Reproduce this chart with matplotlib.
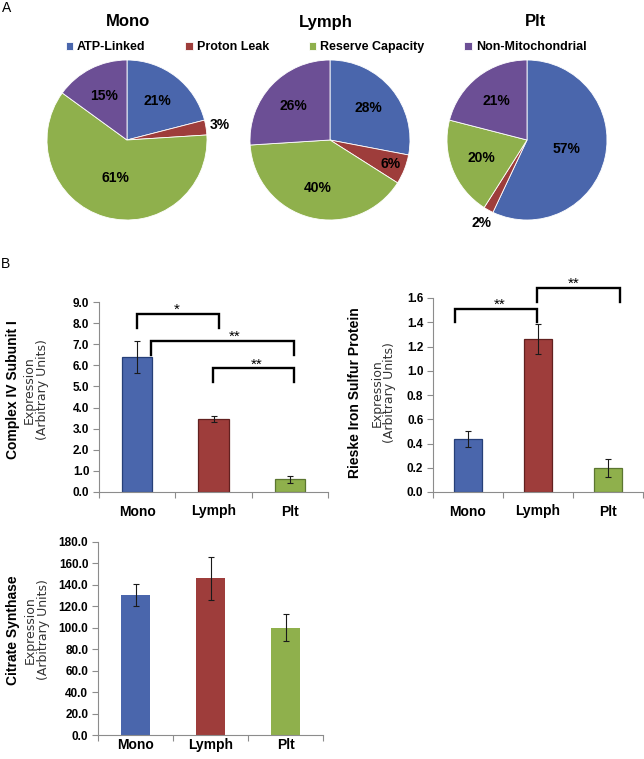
import matplotlib

matplotlib.use("Agg")
import matplotlib.pyplot as plt
import numpy as np

plt.rcParams["font.family"] = ["Liberation Sans", "DejaVu Sans"]

W, H = 644, 759

CELLS = ["Mono", "Lymph", "Plt"]
COMPONENTS = ["ATP-Linked", "Proton Leak", "Reserve Capacity", "Non-Mitochondrial"]
PIE_MONO = [21, 3, 61, 15]
PIE_LYMPH = [28, 6, 40, 26]
PIE_PLT = [57, 2, 20, 21]

COX_MEAN = [6.4, 3.45, 0.6]
COX_ERR = [0.77, 0.13, 0.15]
RIESKE_MEAN = [0.44, 1.26, 0.195]
RIESKE_ERR = [0.066, 0.125, 0.075]
CS_MEAN = [130.5, 146.0, 100.0]
CS_ERR = [10.5, 20.0, 12.5]

COLORS = ["#4A66AC", "#9E3D3B", "#8FB04C", "#6C4F95"]
EDGES = ["#263F78", "#62201F", "#5B7630"]

# (left, right, top, leg bottom, star x, label) in data units
COX_SIG = [
    (0.0, 1.07, 8.44, 7.77, 0.52, "*"),
    (0.18, 2.05, 7.16, 6.5, 1.28, "**"),
    (0.99, 2.05, 5.86, 5.2, 1.56, "**"),
]
RIESKE_SIG = [
    (-0.18, 0.99, 1.509, 1.403, 0.45, "**"),
    (0.99, 2.17, 1.682, 1.568, 1.51, "**"),
]


def px_axes(fig, left, top, right, bottom):
    return fig.add_axes([left / W, 1 - bottom / H, (right - left) / W, (bottom - top) / H])


def draw_pie(fig, cx, values):
    ax = px_axes(fig, cx - 80, 60, cx + 80, 220)
    wedges, _ = ax.pie(
        values,
        colors=COLORS,
        startangle=90,
        counterclock=False,
        radius=1.0,
        wedgeprops={"edgecolor": "white", "linewidth": 0.6},
    )
    for wedge, pct in zip(wedges, values):
        mid = np.deg2rad((wedge.theta1 + wedge.theta2) / 2)
        if pct < 5:
            dist = 1.18
        elif pct < 10:
            dist = 0.82
        elif pct > 50:
            dist = 0.5
        else:
            dist = 0.62
        ax.text(dist * np.cos(mid), dist * np.sin(mid), f"{pct}%",
                ha="center", va="center", fontsize=10, fontweight="bold")
    ax.set_xlim(-1, 1)
    ax.set_ylim(-1, 1)
    ax.set_aspect("equal")
    ax.axis("off")
    return wedges


def style_bar_axis(ax, ymax, ystep, cat_pad):
    ax.set_xlim(-0.5, 2.5)
    ax.set_ylim(0, ymax)
    ticks = np.arange(0, ymax + ystep / 2, ystep)
    ax.set_yticks(ticks)
    ax.set_yticklabels([f"{v:.1f}" for v in ticks])
    ax.set_xticks(range(3))
    ax.set_xticklabels(CELLS)
    ax.set_xticks([-0.5, 0.5, 1.5, 2.5], minor=True)
    for side in ("top", "right"):
        ax.spines[side].set_visible(False)
    for side in ("left", "bottom"):
        ax.spines[side].set_color("#8c8c8c")
        ax.spines[side].set_linewidth(0.8)
    ax.tick_params(axis="y", direction="out", length=4, width=0.8, color="#8c8c8c",
                   labelsize=8.5, pad=3)
    ax.tick_params(axis="x", which="major", length=0, labelsize=10, pad=cat_pad)
    ax.tick_params(axis="x", which="minor", direction="out", length=4, width=0.8, color="#8c8c8c")
    for lab in ax.get_yticklabels() + ax.get_xticklabels():
        lab.set_fontweight("bold")


def draw_bars(ax, means, errs, edged):
    x = np.arange(len(means))
    if edged:
        ax.bar(x, means, width=0.4, color=COLORS[:3], edgecolor=EDGES, linewidth=0.9, zorder=2)
    else:
        ax.bar(x, means, width=0.39, color=COLORS[:3], linewidth=0, zorder=2)
    ax.errorbar(x, means, yerr=errs, fmt="none", ecolor="#1a1a1a", elinewidth=0.8,
                capsize=2, capthick=0.8, zorder=3)


def draw_sig(ax, brackets):
    for left, right, top, leg, sx, label in brackets:
        ax.plot([left, left, right, right], [leg, top, top, leg], color="black",
                linewidth=1.7, solid_joinstyle="miter", clip_on=False, zorder=4)
        ax.text(sx, top, label, ha="center", va="baseline", fontsize=11, clip_on=False)


def ylabel(fig, xs, yc, title):
    fig.text(xs[0] / W, 1 - yc / H, title, rotation=90, ha="center", va="center",
             fontsize=10, fontweight="bold")
    fig.text(xs[1] / W, 1 - yc / H, "Expression", rotation=90, ha="center", va="center",
             fontsize=9, family="DejaVu Sans", color="#333333")
    fig.text(xs[2] / W, 1 - yc / H, "(Arbitrary Units)", rotation=90, ha="center",
             va="center", fontsize=9, family="DejaVu Sans", color="#333333")


fig = plt.figure(figsize=(W / 100, H / 100), dpi=100, facecolor="white")

fig.text(6.5 / W, 1 - 8 / H, "A", ha="center", va="center", fontsize=10)
fig.text(5 / W, 1 - 263.5 / H, "B", ha="center", va="center", fontsize=10)

handles = None
for cx, tx, name, values in zip([127, 330, 527], [128, 326, 536], CELLS,
                                [PIE_MONO, PIE_LYMPH, PIE_PLT]):
    wedges = draw_pie(fig, cx, values)
    if handles is None:
        handles = wedges
    fig.text(tx / W, 1 - 22 / H, name, ha="center", va="center", fontsize=12, fontweight="bold")

fig.legend(handles, COMPONENTS, loc="center", bbox_to_anchor=(326 / W, 1 - 47 / H), ncol=4,
           frameon=False, handlelength=0.6, handleheight=0.6, handletextpad=0.3,
           columnspacing=3.2, prop={"size": 9, "weight": "bold"})

ax1 = px_axes(fig, 99, 302, 328, 492)
draw_bars(ax1, COX_MEAN, COX_ERR, True)
style_bar_axis(ax1, 9.0, 1.0, 9)
draw_sig(ax1, COX_SIG)
ylabel(fig, [13, 29.5, 42.5], 390, "Complex IV Subunit I")

ax2 = px_axes(fig, 433, 298, 643, 492)
draw_bars(ax2, RIESKE_MEAN, RIESKE_ERR, True)
style_bar_axis(ax2, 1.6, 0.2, 9)
draw_sig(ax2, RIESKE_SIG)
ylabel(fig, [355, 377, 390], 393, "Rieske Iron Sulfur Protein")

ax3 = px_axes(fig, 98, 542, 323, 735)
draw_bars(ax3, CS_MEAN, CS_ERR, False)
style_bar_axis(ax3, 180.0, 20.0, 2.5)
ylabel(fig, [13, 30.5, 43.5], 630, "Citrate Synthase")

fig.savefig("out.png", dpi=100, facecolor="white")
